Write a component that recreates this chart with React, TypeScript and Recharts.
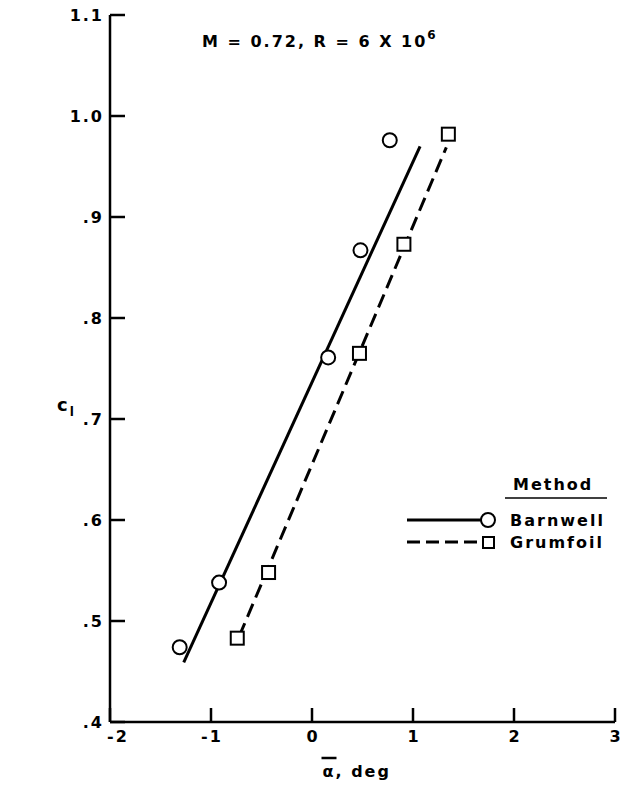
import React from "react";
import { ComposedChart, Line, Scatter, XAxis, YAxis, Legend, Label } from "recharts";

// axis ticks
const alphaTicks = [-2, -1, 0, 1, 2, 3];
const clTicks = [0.4, 0.5, 0.6, 0.7, 0.8, 0.9, 1.0, 1.1];
const clTickLabels = [".4", ".5", ".6", ".7", ".8", ".9", "1.0", "1.1"];

// measured points
const barnwellAlpha = [-1.31, -0.92, 0.16, 0.48, 0.77];
const barnwellCl = [0.474, 0.538, 0.761, 0.867, 0.976];
const grumfoilAlpha = [-0.74, -0.43, 0.47, 0.91, 1.35];
const grumfoilCl = [0.483, 0.548, 0.765, 0.873, 0.982];

// faired lines
const barnwellFitAlpha = [-1.27, 1.07];
const barnwellFitCl = [0.459, 0.97];
const grumfoilFitAlpha = [-0.72, 1.33];
const grumfoilFitCl = [0.485, 0.969];

const toPoints = (xs: number[], ys: number[]) => xs.map((x, i) => ({ alpha: x, cl: ys[i] }));

const FONT = "'DejaVu Sans', 'Liberation Sans', sans-serif";
const txt = { fontFamily: FONT, fontWeight: 700, fontSize: 16, letterSpacing: 2 };

function XTick({ x, y, payload, index }: any) {
  const v = payload.value;
  // first label sits a little right of the corner
  const nudge = index === 0 ? 8 : 1;
  return (
    <g>
      <line x1={x} y1={y} x2={x} y2={y - 14} stroke="#000" strokeWidth={2.5} />
      <text x={x + nudge} y={y + 20} textAnchor="middle" fill="#000" style={txt}>
        {v < 0 ? `-${Math.abs(v)}` : String(v)}
      </text>
    </g>
  );
}

function YTick({ x, y, index }: any) {
  return (
    <g>
      <line x1={x} y1={y} x2={x + 15} y2={y} stroke="#000" strokeWidth={2.5} />
      <text x={x - 6} y={y + 6} textAnchor="end" fill="#000" style={txt}>
        {clTickLabels[index]}
      </text>
    </g>
  );
}

function XTitle({ viewBox }: any) {
  const sx = viewBox.x + viewBox.width / 2 - 40;
  const by = viewBox.y + 55;
  return (
    <g>
      <line x1={sx - 1} y1={by - 19} x2={sx + 14} y2={by - 19} stroke="#000" strokeWidth={2.5} />
      <text x={sx} y={by} fill="#000" style={txt}>
        α, deg
      </text>
    </g>
  );
}

function YTitle({ viewBox }: any) {
  return (
    <text x={viewBox.x + 7} y={viewBox.y + viewBox.height / 2 + 42} fill="#000" style={{ ...txt, fontSize: 18 }}>
      c
      <tspan dy={5} style={{ fontSize: 12 }}>l</tspan>
    </text>
  );
}

function Circle({ cx, cy }: any) {
  return <circle cx={cx} cy={cy} r={7} fill="#fff" stroke="#000" strokeWidth={2} />;
}

function Square({ cx, cy }: any) {
  return <rect x={cx - 6.5} y={cy - 6.5} width={13} height={13} fill="#fff" stroke="#000" strokeWidth={2} />;
}

function MethodLegend() {
  return (
    <svg width={230} height={92}>
      <text x={118} y={25} fill="#000" style={txt}>Method</text>
      <line x1={110} y1={33} x2={212} y2={33} stroke="#000" strokeWidth={1.5} />
      <line x1={12} y1={55} x2={86} y2={55} stroke="#000" strokeWidth={3} />
      <circle cx={93} cy={55} r={7} fill="#fff" stroke="#000" strokeWidth={2} />
      <text x={115} y={61} fill="#000" style={txt}>Barnwell</text>
      <line x1={12} y1={77} x2={87} y2={77} stroke="#000" strokeWidth={3} strokeDasharray="13 6" />
      <rect x={88} y={72} width={11} height={11} fill="#fff" stroke="#000" strokeWidth={2} />
      <text x={115} y={83} fill="#000" style={txt}>Grumfoil</text>
    </svg>
  );
}

export default function App() {
  return (
    <div style={{ position: "absolute", left: 0, top: 0, width: 622, height: 787, background: "#fff" }}>
      <ComposedChart width={622} height={787} margin={{ top: 15, right: 7, left: 50, bottom: 5 }}>
        <XAxis
          dataKey="alpha"
          type="number"
          domain={[-2, 3]}
          ticks={alphaTicks}
          interval={0}
          tickSize={0}
          tickMargin={0}
          tickLine={false}
          height={60}
          axisLine={{ stroke: "#000", strokeWidth: 2.5 }}
          tick={<XTick />}
        >
          <Label content={<XTitle />} />
        </XAxis>
        <YAxis
          dataKey="cl"
          type="number"
          domain={[0.4, 1.1]}
          ticks={clTicks}
          interval={0}
          tickSize={0}
          tickMargin={0}
          tickLine={false}
          width={60}
          axisLine={{ stroke: "#000", strokeWidth: 2.5 }}
          tick={<YTick />}
        >
          <Label content={<YTitle />} />
        </YAxis>
        <Legend
          layout="vertical"
          align="center"
          verticalAlign="middle"
          content={<MethodLegend />}
          wrapperStyle={{ left: 395, top: 465, width: 230, height: 92 }}
        />
        <Line
          data={toPoints(barnwellFitAlpha, barnwellFitCl)}
          dataKey="cl"
          type="linear"
          stroke="#000"
          strokeWidth={3}
          dot={false}
          activeDot={false}
          legendType="none"
          isAnimationActive={false}
        />
        <Line
          data={toPoints(grumfoilFitAlpha, grumfoilFitCl)}
          dataKey="cl"
          type="linear"
          stroke="#000"
          strokeWidth={3}
          strokeDasharray="14 7"
          dot={false}
          activeDot={false}
          legendType="none"
          isAnimationActive={false}
        />
        <Scatter data={toPoints(barnwellAlpha, barnwellCl)} dataKey="cl" shape={<Circle />} isAnimationActive={false} />
        <Scatter data={toPoints(grumfoilAlpha, grumfoilCl)} dataKey="cl" shape={<Square />} isAnimationActive={false} />
      </ComposedChart>
      <svg width={622} height={60} style={{ position: "absolute", left: 0, top: 0, pointerEvents: "none" }}>
        <text x={202} y={47} fill="#000" style={txt}>
          M = 0.72, R = 6 X 10
          <tspan dy={-8} style={{ fontSize: 12 }}>6</tspan>
        </text>
      </svg>
    </div>
  );
}
